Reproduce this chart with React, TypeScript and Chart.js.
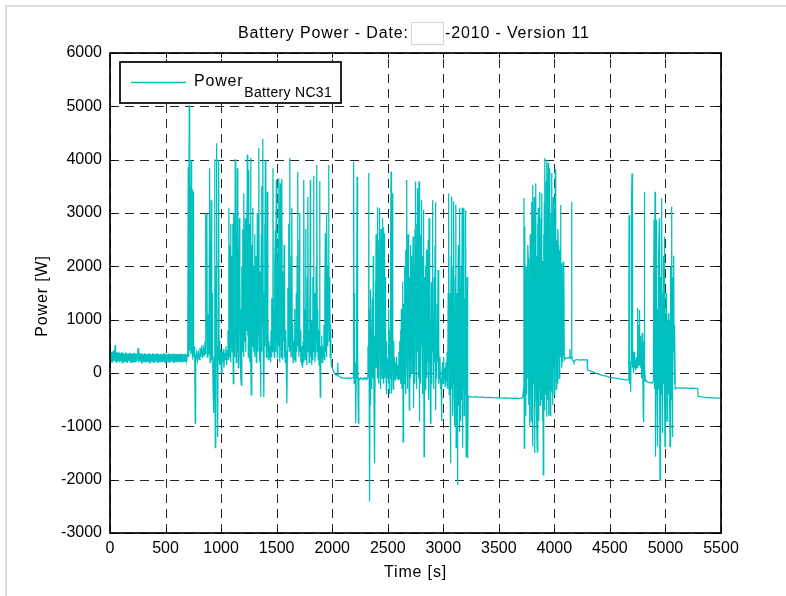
import React, { useEffect, useRef } from "react";
import { Chart, registerables } from "chart.js";

Chart.register(...registerables);

// ---- axes / labels ----
const xTicks = [0, 500, 1000, 1500, 2000, 2500, 3000, 3500, 4000, 4500, 5000, 5500];
const yTicks = [-3000, -2000, -1000, 0, 1000, 2000, 3000, 4000, 5000, 6000];
const titleLeft = "Battery Power - Date:";
const titleRight = "-2010 - Version 11";
const xLabel = "Time [s]";
const yLabel = "Power [W]";
const legendMain = "Power";
const legendSub = "Battery NC31";

// ---- data: [time s, power W], phase by phase ----
const idlePhase: [number, number][] = [
  [0,230],[6,410],[12,210],[18,390],[24,200],[30,420],[36,220],[42,400],[46,520],[50,210],[56,390],[62,190],[68,380],[74,230],[80,400],[86,200],[92,370],[98,220],[104,390],[110,190],[116,380],[122,210],[128,360],[134,200],[140,390],[146,220],[152,370],[158,190],[164,360],[170,230],[176,380],[182,200],[188,370],[194,210],[200,360],[206,190],[212,380],[218,220],[224,370],[230,200],[236,360],[242,210],[248,380],[254,470],[258,200],[264,370],[270,220],[276,360],[282,190],[288,370],[294,210],[300,350],[306,200],[312,370],[318,220],[324,360],[330,200],[336,350],[342,210],[348,370],[354,190],[360,360],[366,220],[372,350],[378,200],[384,370],[390,210],[396,360],[402,190],[408,350],[414,220],[420,370],[426,200],[432,360],[438,210],[444,350],[450,200],[456,360],[462,220],[468,350],[474,200],[480,370],[486,210],[492,350],[498,190],[504,360],[510,220],[516,350],[522,200],[528,370],[534,210],[540,350],[546,200],[552,360],[558,220],[564,350],[570,200],[576,370],[582,210],[588,350],[594,200],[600,360],[606,220],[612,350],[618,210],[624,360],[630,200],[636,350],[642,220],[648,360],[654,200],[660,350],[666,210],[672,360],[678,220],[684,350],[690,230],[696,340]
];

const burstOne: [number, number][] = [
  [700,330],[704,3860],[708,300],[713,5020],[717,420],[722,3500],[727,350],[731,3990],[735,380],[739,3440],[743,250],[748,3400],[752,300],[757,500],[762,350],[767,-940],[771,260],[778,380],[786,240],[794,420],[802,250],[810,470],[818,300],[826,520],[834,280],[842,450],[850,320],[856,600],[860,3000],[864,350],[868,2500],[872,2980],[876,300],[882,600],[886,1100],[890,350],[897,3840],[901,200],[905,2400],[909,500],[912,3240],[916,250],[920,1500],[924,300],[928,-300],[933,-750],[937,300],[942,4010],[945,500],[948,-1400],[952,400],[956,2000],[960,4310],[964,300],[969,-1200],[973,500],[978,4000],[982,300],[986,600],[990,150],[996,450],[1002,0],[1008,400],[1014,200],[1020,450],[1026,100],[1032,380],[1038,250],[1044,500],[1050,150],[1056,420],[1062,800],[1066,250],[1070,3100],[1073,400],[1076,1800],[1079,300],[1082,2400],[1086,2800],[1089,200],[1092,1200],[1095,600],[1098,2200],[1101,400],[1104,2800],[1107,900],[1110,-200],[1113,1500],[1115,3000],[1118,500],[1121,2200],[1124,300],[1127,4010],[1130,800],[1133,1800],[1136,200],[1139,2600],[1142,600],[1146,3840],[1149,400],[1152,1500],[1155,100],[1158,2300],[1161,700],[1164,2900],[1167,800],[1170,1800],[1173,300],[1176,1200],[1179,-100],[1182,-225],[1185,900],[1188,2000],[1191,400],[1194,2700],[1197,1000],[1200,1900],[1203,300],[1206,3370],[1209,600],[1212,2200],[1215,1100],[1218,2900],[1221,400],[1224,1700],[1227,800],[1230,3000],[1233,1200],[1236,4090],[1239,700],[1242,2500],[1245,300],[1248,3800],[1251,900],[1254,1600],[1257,200],[1260,2800],[1263,600],[1266,4030],[1269,100],[1272,-410],[1275,1300],[1278,2400],[1281,500],[1284,3100],[1287,1000],[1290,2000],[1293,400],[1296,1500],[1299,800],[1302,2600],[1305,300],[1308,1200],[1311,600],[1314,2200],[1317,200],[1320,1800],[1323,900],[1326,3000],[1329,400],[1332,1400],[1335,700],[1338,2500],[1341,4220],[1344,500],[1347,1900],[1350,200],[1353,800],[1356,-450],[1359,1200],[1362,2600],[1365,400],[1368,3500],[1371,900],[1374,2200],[1377,4390],[1380,300],[1383,1500],[1386,-450],[1389,900],[1392,2800],[1395,500],[1398,3990],[1401,800],[1404,2300],[1407,300],[1410,1600],[1413,700],[1416,3400],[1419,400],[1422,1100],[1425,250],[1430,600],[1437,280],[1442,500],[1446,200],[1450,800],[1454,300],[1458,1400],[1462,400],[1467,3840],[1471,500],[1475,1200],[1479,300],[1483,2000],[1488,2680],[1491,400],[1494,1500],[1497,3620],[1500,600],[1503,2200],[1506,300],[1509,1600],[1512,800],[1515,2500],[1518,3650],[1521,500],[1524,1800],[1527,200],[1530,2600],[1533,3560],[1536,700],[1539,1400],[1542,300],[1545,2200],[1548,3640],[1551,500],[1554,1300],[1557,250],[1560,1900],[1563,600],[1567,2400],[1570,300],[1574,1000],[1578,200],[1582,800],[1586,300],[1590,100],[1593,-570],[1597,400],[1601,1600],[1605,500],[1609,2800],[1613,700],[1617,4030],[1620,400],[1624,1500],[1628,300],[1632,2200],[1635,600],[1638,3100],[1641,300],[1645,900],[1649,200],[1653,600],[1657,250],[1661,1200],[1665,300],[1669,700],[1673,200],[1677,1500],[1681,400],[1685,2200],[1689,3770],[1692,500],[1696,1400],[1700,300],[1704,2500],[1707,3000],[1710,400],[1714,800],[1718,200],[1722,500],[1726,150],[1730,400],[1734,100],[1738,600],[1742,200],[1746,3620],[1749,300],[1753,1200],[1757,250],[1761,2700],[1764,400],[1768,900],[1772,150],[1776,1800],[1779,500],[1782,3300],[1785,400],[1789,800],[1793,200],[1797,1400],[1800,500],[1803,3620],[1806,300],[1810,1000],[1814,150],[1818,500],[1822,250],[1826,1800],[1829,400],[1833,3700],[1836,600],[1840,1500],[1844,200],[1848,900],[1852,300],[1856,2000],[1859,600],[1863,3900],[1866,400],[1870,1200],[1874,250],[1878,800],[1882,150],[1887,3600],[1890,300],[1893,-450],[1897,500],[1901,300],[1906,700],[1910,200],[1915,500],[1920,300],[1926,900],[1930,250],[1934,1500],[1938,2620],[1941,400],[1945,1800],[1948,300],[1952,3000],[1956,1200],[1960,500],[1965,2000],[1968,3900],[1971,2500],[1974,600],[1978,1800],[1982,300],[1986,900],[1990,200],[1994,150]
];

const burstTwo: [number, number][] = [
  [1998,120],[2005,80],[2012,30],[2020,0],[2028,-20],[2036,-40],[2044,-30],[2050,190],[2054,-50],[2060,-60],[2070,-75],[2080,-90],[2090,-80],[2100,-100],[2110,-90],[2120,-95],[2130,-100],[2140,-90],[2150,-100],[2160,-95],[2170,-100],[2180,-90],[2188,-80],[2192,800],[2194,3960],[2197,-200],[2200,1500],[2204,-100],[2208,200],[2212,-940],[2216,-100],[2220,900],[2224,3680],[2227,-100],[2231,400],[2236,-940],[2240,-100],[2248,-120],[2256,-90],[2264,-110],[2272,-100],[2280,-120],[2288,-90],[2296,-110],[2304,-100],[2312,-120],[2318,-80],[2322,500],[2326,-50],[2329,3750],[2332,400],[2335,1200],[2338,-2410],[2341,100],[2344,-600],[2347,1560],[2350,-100],[2354,800],[2358,-300],[2362,1400],[2366,-100],[2370,2200],[2373,300],[2377,-800],[2380,700],[2383,-1690],[2386,100],[2389,1700],[2392,500],[2395,2600],[2398,100],[2401,1690],[2404,2200],[2407,-100],[2410,3110],[2413,300],[2416,1900],[2419,-200],[2422,2500],[2425,400],[2428,3090],[2431,0],[2434,2000],[2437,-300],[2440,2700],[2443,200],[2446,1500],[2449,-100],[2452,2900],[2455,400],[2458,1200],[2461,-200],[2464,2730],[2467,100],[2470,2620],[2473,-100],[2476,1800],[2479,0],[2482,1000],[2485,-150],[2488,600],[2491,-400],[2494,200],[2497,-100],
  [2503,300],[2507,-200],[2510,1200],[2514,-380],[2518,800],[2522,-100],[2526,2500],[2530,3780],[2533,500],[2536,-380],[2540,2000],[2544,3370],[2547,200],[2550,-300],[2554,600],[2558,-100],[2562,300],[2566,-130],[2570,200],[2575,-50],[2580,300],[2585,-100],[2590,150],[2595,-120],[2600,400],[2604,-100],[2608,600],[2612,100],[2615,800],[2619,-200],[2623,1200],[2627,-300],[2631,900],[2635,1710],[2638,-1290],[2641,500],[2645,1300],[2649,-200],[2653,2000],[2656,300],[2660,-400],[2664,2300],[2668,800],[2671,3620],[2674,200],[2677,1600],[2680,-300],[2684,2600],[2687,500],[2690,1200],[2694,-690],[2698,1800],[2701,300],[2704,2400],[2707,-100],[2710,1500],[2713,700],[2716,2200],[2719,0],[2722,1800],[2725,500],[2728,2560],[2731,-650],[2734,1200],[2737,300],[2740,2000],[2743,-200],[2746,2700],[2749,800],[2752,3590],[2755,200],[2758,1500],[2761,-300],[2764,2800],[2767,3470],[2770,400],[2773,1900],[2776,-100],[2779,2500],[2782,3590],[2785,-910],[2788,1200],[2791,300],[2794,2600],[2797,-200],[2800,1700],[2803,3240],[2806,500],[2809,1300],[2812,-400],[2815,2200],[2818,600],[2821,1500],[2824,3060],[2827,-1570],[2830,400],[2833,1800],[2836,-300],[2840,2000],[2844,700],[2849,2310],[2852,-100],[2856,1400],[2860,200],[2864,2500],[2868,-500],[2872,2900],[2876,300],[2880,1000],[2885,-940],[2889,600],[2893,1700],[2897,-200],[2900,1500],[2903,3240],[2906,400],[2910,1100],[2914,-300],[2918,1800],[2922,200],[2926,2400],[2930,3200],[2933,-700],[2937,800],[2941,-100],[2945,1300],[2949,200],[2953,1930],[2957,-200],[2961,500],[2965,-100],[2970,300],[2975,-300],[2980,-130],[2984,-900],[2988,-150],[2993,200],[2998,-200],[3003,300],[3008,-100],[3013,100],[3018,-250],[3024,200],[3030,-150],[3035,400],[3040,-300],[3044,1500],[3047,200],[3050,3370],[3053,-400],[3057,1500],[3061,100],[3065,-1690],[3068,800],[3071,2200],[3074,3310],[3077,-300],[3080,1200],[3084,-800],[3088,2000],[3091,-200],[3095,3220],[3098,-500],[3101,1000],[3105,-1000],[3109,1800],[3113,3160],[3116,-1400],[3119,600],[3122,-300],[3125,1500],[3128,-2100],[3131,400],[3135,2400],[3138,-600],[3142,800],[3145,-1100],[3149,3100],[3152,-400],[3155,1600],[3159,-900],[3162,2000],[3166,-500],[3170,3100],[3173,-1400],[3176,900],[3180,-300],[3185,3100],[3188,-800],[3192,1400],[3196,-400],[3199,2200],[3203,3050],[3206,-1570],[3209,500],[3212,-600],[3215,1800],[3218,1000],[3221,-1600],[3224,-430]
];

const cruisePhase: [number, number][] = [
  [3230,-440],[3260,-450],[3290,-445],[3320,-455],[3350,-450],[3380,-460],[3410,-455],[3440,-460],[3470,-465],[3500,-460],[3530,-470],[3560,-465],[3590,-470],[3620,-475],[3650,-470],[3680,-480],[3700,-470],[3715,-460]
];

const burstThree: [number, number][] = [
  [3722,-300],[3726,3280],[3729,-1410],[3732,600],[3735,2750],[3738,-200],[3741,1200],[3744,-800],[3747,2000],[3750,300],[3753,-400],[3756,1500],[3759,-100],[3762,2400],[3765,2150],[3768,-600],[3771,1800],[3774,300],[3777,-1000],[3780,600],[3783,2600],[3786,-300],[3789,1400],[3792,-900],[3795,3210],[3798,200],[3801,-600],[3804,3520],[3807,-1380],[3810,1700],[3813,-200],[3816,2500],[3819,3300],[3822,-800],[3825,-1500],[3828,1900],[3831,300],[3834,3560],[3837,-400],[3840,2200],[3843,-1000],[3846,-1480],[3849,2800],[3852,100],[3855,3100],[3858,-900],[3861,2400],[3864,-300],[3867,3000],[3870,3400],[3873,-600],[3876,1800],[3879,-200],[3882,2900],[3885,3370],[3888,-500],[3891,2100],[3894,-900],[3897,1500],[3900,-1910],[3903,2600],[3906,-300],[3909,3200],[3912,-700],[3915,4030],[3918,-400],[3921,2800],[3924,-200],[3927,3600],[3930,4000],[3933,-820],[3936,2300],[3939,-500],[3942,3000],[3945,3940],[3948,-800],[3951,2500],[3954,-300],[3957,3400],[3960,3840],[3963,-800],[3966,2000],[3969,-100],[3972,3000],[3975,3750],[3978,-350],[3981,1800],[3984,-600],[3987,2600],[3990,3300],[3993,100],[3996,2200],[3999,-400],[4002,2900],[4005,-40],[4008,3820],[4011,200],[4014,1600],[4017,-300],[4020,2490],[4023,400],[4026,2000],[4029,-200],[4032,2700],[4035,2400],[4038,300],[4041,1500],[4044,-100],[4047,2300],[4050,600],[4053,1200],[4056,3150],[4059,300],[4062,1700],[4065,100],[4068,2060],[4071,400],[4074,1000],[4077,200],[4080,2090],[4083,350],[4086,2060],[4089,300],[4092,250],[4100,280],[4110,270],[4120,290],[4130,280],[4136,300],[4140,450],[4144,270],[4150,280],[4155,3210],[4158,300],[4162,240],[4170,230],[4176,200],[4185,230],[4195,250],[4210,250],[4225,240],[4240,245],[4255,250],[4270,240],[4285,250],[4294,250],[4298,60],[4320,40],[4350,20],[4380,-10],[4410,-30],[4440,-50],[4470,-60],[4500,-80],[4530,-90],[4560,-100],[4590,-110],[4620,-120],[4650,-130],[4665,-130]
];

const burstFour: [number, number][] = [
  [4670,-120],[4672,2960],[4676,-200],[4680,300],[4684,-100],[4687,-350],[4690,200],[4695,3300],[4699,3740],[4702,100],[4706,490],[4709,200],[4713,0],[4717,400],[4721,100],[4726,250],[4732,50],[4738,300],[4744,100],[4750,1220],[4754,200],[4758,900],[4762,150],[4765,1180],[4769,300],[4773,700],[4777,100],[4781,500],[4785,-100],[4791,750],[4795,300],[4800,-750],[4804,-920],[4807,600],[4810,3400],[4813,200],[4818,-150],[4822,-130],[4830,-160],[4840,-170],[4850,-180],[4860,-175],[4870,-180],[4880,-190],[4888,-170],[4892,300],[4897,2870],[4900,-300],[4903,1500],[4906,3400],[4909,-1570],[4912,800],[4915,-400],[4918,2000],[4921,2870],[4924,-470],[4927,900],[4930,-1380],[4933,1200],[4936,-300],[4940,2200],[4945,2900],[4948,-500],[4951,-2010],[4954,600],[4958,1800],[4962,-400],[4966,3280],[4969,200],[4972,-600],[4975,-1130],[4978,1500],[4981,-200],[4984,2200],[4987,800],[4990,2560],[4993,-300],[4996,-1380],[4999,800],[5002,-200],[5006,1500],[5010,300],[5014,-900],[5018,1000],[5022,200],[5026,1120],[5030,-400],[5034,1000],[5037,-200],[5041,-1380],[5044,800],[5048,2000],[5052,-500],[5056,3120],[5059,200],[5062,-1200],[5066,1800],[5070,400],[5074,2200],[5077,600],[5080,-200],[5084,900],[5088,-300],[5092,-280],[5120,-280],[5150,-285],[5180,-280],[5210,-290],[5240,-285],[5270,-290],[5290,-290],[5295,-440],[5330,-450],[5370,-460],[5410,-460],[5450,-470],[5480,-470],[5500,-470]
];

const phases = [idlePhase, burstOne, burstTwo, cruisePhase, burstThree, burstFour];

const LINE_COLOR = "#00BFBF";
const FONT = "'Liberation Sans', Arial, Helvetica, sans-serif";

export default function App() {
  const ref = useRef<HTMLCanvasElement>(null);

  useEffect(() => {
    const canvas = ref.current;
    if (!canvas) return;
    const points = phases.flat().map(([x, y]) => ({ x, y }));

    const decor = {
      id: "matlabDecor",
      beforeDraw(chart: any) {
        const ctx = chart.ctx;
        ctx.save();
        ctx.fillStyle = "#ffffff";
        ctx.fillRect(0, 0, chart.width, chart.height);
        ctx.fillStyle = "#dcdcdc";
        ctx.fillRect(5, 5, 2, chart.height - 5);
        ctx.fillRect(5, 5, chart.width - 5, 2);
        ctx.restore();
      },
      beforeDatasetsDraw(chart: any) {
        const { ctx, chartArea: a, scales } = chart;
        ctx.save();
        ctx.strokeStyle = "#262626";
        ctx.lineWidth = 1;
        ctx.setLineDash([9, 6]);
        for (const v of xTicks) {
          const px = Math.round(scales.x.getPixelForValue(v)) + 0.5;
          ctx.beginPath();
          ctx.moveTo(px, a.bottom);
          ctx.lineTo(px, a.top);
          ctx.stroke();
        }
        for (const v of yTicks) {
          const py = Math.round(scales.y.getPixelForValue(v)) + 0.5;
          ctx.beginPath();
          ctx.moveTo(a.left, py);
          ctx.lineTo(a.right, py);
          ctx.stroke();
        }
        ctx.restore();
      },
      afterDatasetsDraw(chart: any) {
        const { ctx, chartArea: a, scales } = chart;
        ctx.save();
        // axes box
        ctx.strokeStyle = "#000";
        ctx.lineWidth = 1.7;
        ctx.strokeRect(a.left, a.top, a.right - a.left, a.bottom - a.top);
        // inner ticks
        ctx.lineWidth = 1;
        const tl = 5;
        for (const v of xTicks) {
          const px = Math.round(scales.x.getPixelForValue(v)) + 0.5;
          ctx.beginPath();
          ctx.moveTo(px, a.bottom); ctx.lineTo(px, a.bottom - tl);
          ctx.moveTo(px, a.top); ctx.lineTo(px, a.top + tl);
          ctx.stroke();
        }
        for (const v of yTicks) {
          const py = Math.round(scales.y.getPixelForValue(v)) + 0.5;
          ctx.beginPath();
          ctx.moveTo(a.left, py); ctx.lineTo(a.left + tl, py);
          ctx.moveTo(a.right, py); ctx.lineTo(a.right - tl, py);
          ctx.stroke();
        }
        // legend
        const lx = a.left + 10, ly = a.top + 9, lw = 221, lh = 41;
        ctx.fillStyle = "#fff";
        ctx.fillRect(lx, ly, lw, lh);
        ctx.strokeStyle = "#000";
        ctx.lineWidth = 1.7;
        ctx.strokeRect(lx, ly, lw, lh);
        ctx.strokeStyle = LINE_COLOR;
        ctx.lineWidth = 1.5;
        ctx.beginPath();
        ctx.moveTo(lx + 11, ly + 20.5);
        ctx.lineTo(lx + 66, ly + 20.5);
        ctx.stroke();
        ctx.fillStyle = "#000";
        ctx.textBaseline = "alphabetic";
        ctx.textAlign = "left";
        (ctx as any).letterSpacing = "0.8px";
        ctx.font = `16px ${FONT}`;
        ctx.fillText(legendMain, lx + 74, ly + 24);
        const mw = ctx.measureText(legendMain).width;
        ctx.font = `14px ${FONT}`;
        (ctx as any).letterSpacing = "0.3px";
        ctx.fillText(legendSub, lx + 74 + mw + 1, ly + 34.5);
        ctx.restore();
      },
      afterDraw(chart: any) {
        const { ctx, chartArea: a } = chart;
        ctx.save();
        ctx.fillStyle = "#000";
        ctx.textBaseline = "alphabetic";
        ctx.font = `16px ${FONT}`;
        (ctx as any).letterSpacing = "0.85px";
        // title with blank date box
        ctx.textAlign = "left";
        ctx.fillText(titleLeft, 238, 38);
        ctx.fillStyle = "#fff";
        ctx.fillRect(411, 22, 33, 23);
        ctx.strokeStyle = "#d4d4d4";
        ctx.lineWidth = 1;
        ctx.strokeRect(411.5, 22.5, 32, 22);
        ctx.fillStyle = "#000";
        ctx.fillText(titleRight, 445, 38);
        // x label
        ctx.textAlign = "center";
        ctx.fillText(xLabel, (a.left + a.right) / 2, 577);
        // y label
        ctx.translate(47, 296);
        ctx.rotate(-Math.PI / 2);
        ctx.fillText(yLabel, 0, 0);
        ctx.restore();
      },
    };

    const chart = new Chart(canvas, {
      type: "scatter",
      data: {
        datasets: [
          {
            label: legendMain + " " + legendSub,
            data: points,
            showLine: true,
            borderColor: LINE_COLOR,
            backgroundColor: LINE_COLOR,
            borderWidth: 1.25,
            pointRadius: 0,
            pointHoverRadius: 0,
            tension: 0,
          },
        ],
      },
      options: {
        responsive: false,
        animation: false,
        events: [],
        layout: { padding: { left: 0, right: 65, top: 53, bottom: 0 } },
        plugins: {
          legend: { display: false },
          title: { display: false },
          tooltip: { enabled: false },
        },
        scales: {
          x: {
            type: "linear",
            min: 0,
            max: 5500,
            afterFit: (s: any) => { s.height = 63; },
            afterBuildTicks: (s: any) => { s.ticks = xTicks.map((v) => ({ value: v })); },
            grid: { display: false, drawTicks: false },
            border: { display: false },
            ticks: {
              color: "#000",
              padding: 6,
              font: { family: FONT, size: 16 },
              maxRotation: 0,
              autoSkip: false,
              callback: (v: any) => String(v),
            },
          },
          y: {
            type: "linear",
            min: -3000,
            max: 6000,
            afterFit: (s: any) => { s.width = 110; },
            afterBuildTicks: (s: any) => { s.ticks = yTicks.map((v) => ({ value: v })); },
            grid: { display: false, drawTicks: false },
            border: { display: false },
            ticks: {
              color: "#000",
              padding: 8,
              font: { family: FONT, size: 16 },
              autoSkip: false,
              callback: (v: any) => String(v),
            },
          },
        },
      },
      plugins: [decor],
    });

    return () => chart.destroy();
  }, []);

  return (
    <div style={{ position: "fixed", left: 0, top: 0, width: 786, height: 596, background: "#fff" }}>
      <canvas ref={ref} width={786} height={596} style={{ display: "block", width: 786, height: 596 }} />
    </div>
  );
}
